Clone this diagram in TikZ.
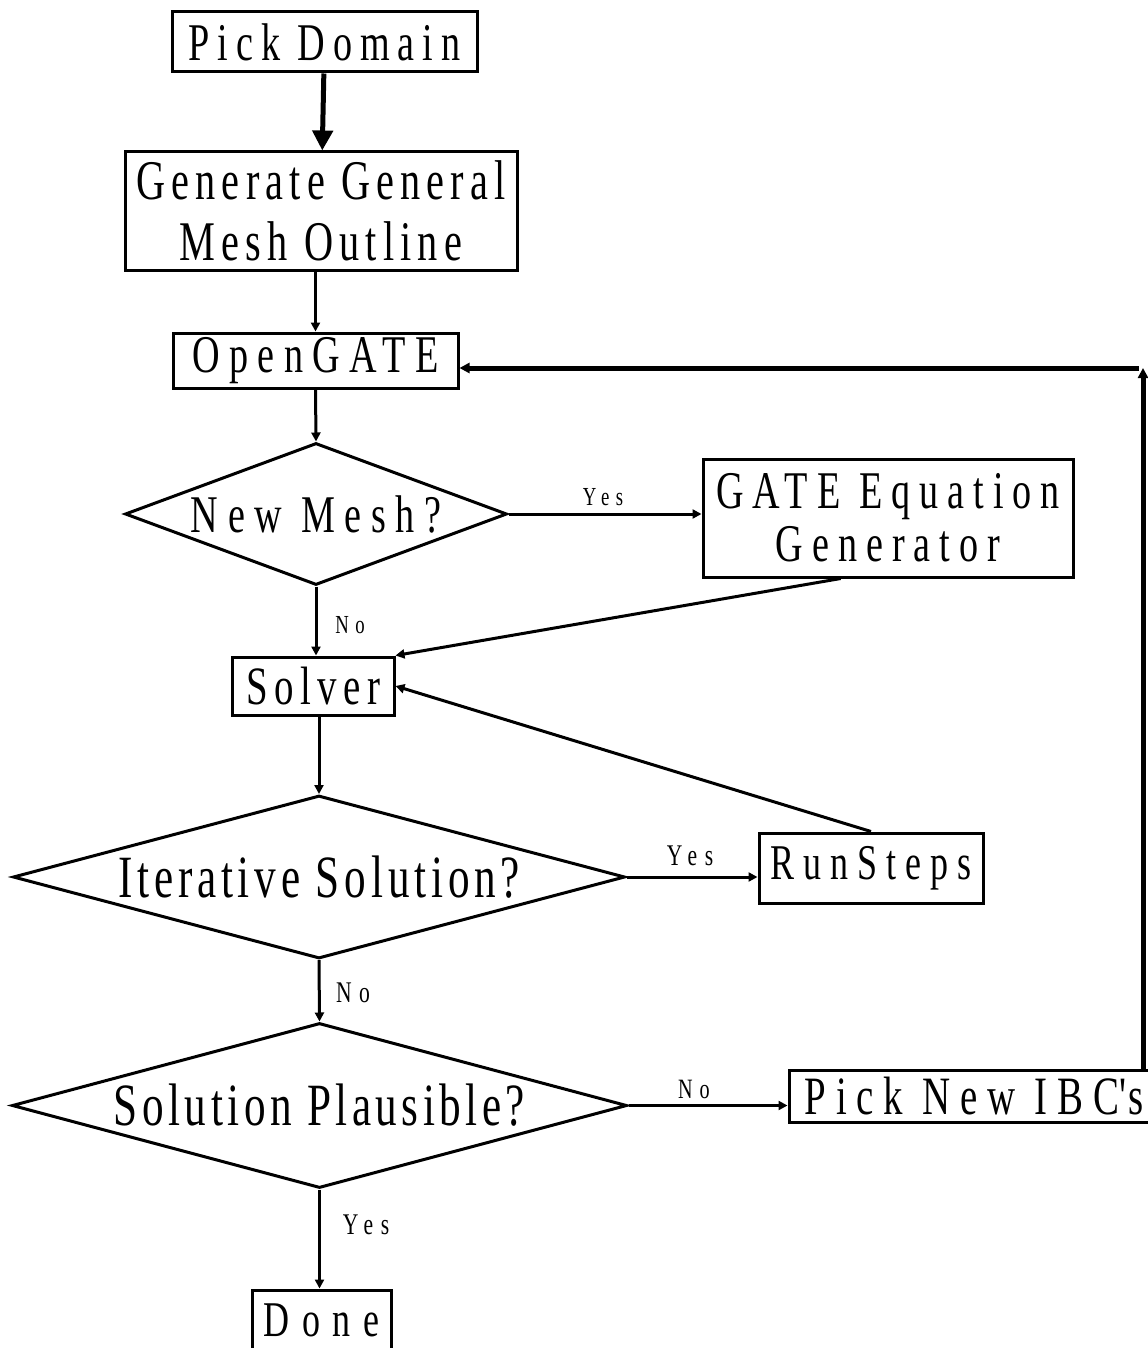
\documentclass[tikz,border=0pt]{standalone}
\usepackage{fontspec}
\usepackage{tikz}
\usetikzlibrary{shapes.geometric,arrows.meta}
\newfontfamily\flowfont[FakeStretch=0.72]{Liberation Serif}
\newcommand{\flowsize}[3]{\flowfont\addfontfeatures{LetterSpace=#3}\fontsize{#1}{#2}\selectfont}
\tikzset{
FlowBox/.style={
 draw=black, 
 line width=1.5pt, 
 rectangle, 
 inner sep=0pt, 
 align=center
 },
Decision/.style={
 draw=black, 
 line width=1.5pt, 
 diamond, 
 inner sep=0pt
 },
Arrow/.style={
 draw=black, 
 line width=1.5pt, 
 -{Triangle[length=4.5pt,width=4.5pt]}
 },
BigArrow/.style={
 draw=black, 
 line width=2.5pt, 
 -{Triangle[length=10pt,width=10pt]}
 },
BackArrow/.style={
 draw=black, 
 line width=2.5pt, 
 -{Triangle[length=5pt,width=5pt]}
 },
Answer/.style={
 inner sep=0pt, 
 font=\flowsize{#1}{#1}{25}
 },
Answer/.default={15}
}

\begin{document}
\begin{tikzpicture}[x=0.5pt,y=-0.5pt]
\useasboundingbox (0,0) rectangle (1147,1348);
% boxes
\node[FlowBox, minimum width=152.5pt, minimum height=30pt, font=\flowsize{26.5}{30}{15}] (dom) at (324.5,42) {Pick Domain};
\node[FlowBox, minimum width=196pt, minimum height=59pt, font=\flowsize{28}{30.5}{11}] (gen) at (321,211) {Generate General\\Mesh Outline};
\node[FlowBox, minimum width=142.5pt, minimum height=27.5pt, font=\flowsize{26.5}{30}{18}] (open) at (315.5,360.5) {OpenGATE};
\node[Decision, minimum width=191pt, minimum height=71pt, label={[name=meshtxt, font=\flowsize{26.5}{30}{18}]center:New Mesh?}] (mesh) at (316,514) {};
\node[FlowBox, minimum width=185pt, minimum height=59pt, font=\flowsize{26.5}{26.5}{17}] (gate) at (888,518) {GATE Equation\\Generator};
\node[FlowBox, minimum width=81pt, minimum height=29pt, font=\flowsize{27}{30}{12}] (solver) at (313,686) {Solver};
\node[Decision, minimum width=306pt, minimum height=81.5pt, label={[name=itertxt, font=\flowsize{30}{33}{8}]center:Iterative Solution?}] (iter) at (319,877) {};
\node[FlowBox, minimum width=112pt, minimum height=35pt, font=\flowsize{25}{30}{18}] (run) at (871,868) {RunSteps};
\node[Decision, minimum width=307.5pt, minimum height=82.5pt, label={[name=plaustxt, font=\flowsize{30}{33}{7.5}]center:Solution Plausible?}] (plaus) at (319.5,1105.5) {};
\node[FlowBox, minimum width=185.5pt, minimum height=26pt, font=\flowsize{27}{30}{18}] (ibc) at (974.5,1096) {Pick New IBC\textquotesingle s};
\node[FlowBox, minimum width=69.5pt, minimum height=30pt, font=\flowsize{25}{30}{25}] (done) at (321.5,1320) {Done};
\coordinate (turn) at (1143,368);
% connectors
\draw[BigArrow] (dom) -- (gen);
\draw[Arrow] (open.north |- gen.south) -- (open.north);
\draw[Arrow] (open.south) -- (mesh.north);
\draw[Arrow] (mesh.east) -- (mesh.east -| gate.west);
\draw[Arrow] (mesh.south) -- (mesh.south |- solver.north);
\draw[Arrow] (gate.232.7) -- (solver.north east);
\draw[Arrow] (run.north) -- (solver.east);
\draw[Arrow] (iter.north |- solver.south) -- (iter.north);
\draw[Arrow] (iter.east) -- (iter.east -| run.west);
\draw[Arrow] (iter.south) -- (plaus.north);
\draw[Arrow] (plaus.east) -- (plaus.east -| ibc.west);
\draw[Arrow] (plaus.south) -- (plaus.south |- done.north);
\draw[BackArrow] (ibc.north -| turn) -- (turn);
\draw[BackArrow] ([xshift=-2pt]turn) -- (turn -| open.east);
% answers
\node[Answer=13] (yes1) at (603,497) {Yes};
\node[Answer=13] (no1) at (350,625) {No};
\node[Answer] (yes2) at (690,856) {Yes};
\node[Answer] (no2) at (353,993) {No};
\node[Answer=14] (no3) at (694,1089) {No};
\node[Answer] (yes3) at (366,1225) {Yes};
\end{tikzpicture}
\end{document}
